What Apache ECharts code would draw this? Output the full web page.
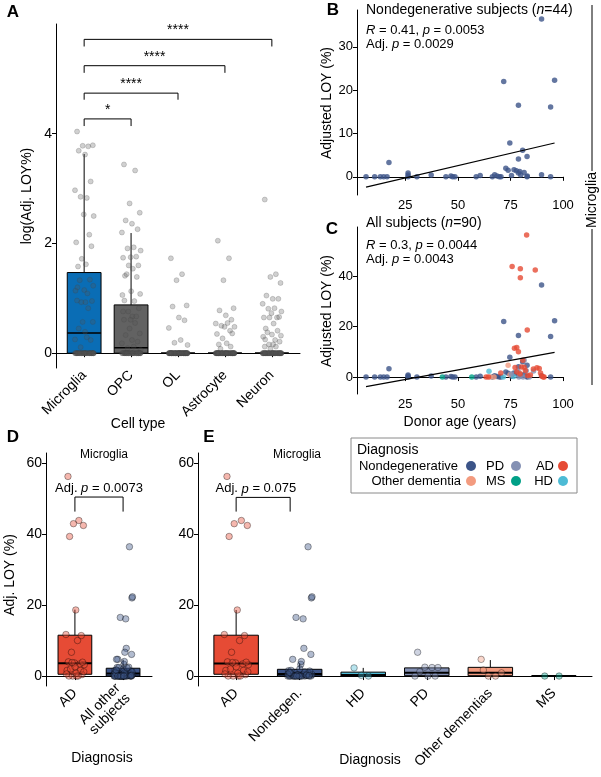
<!DOCTYPE html>
<html lang="en">
<head>
<meta charset="UTF-8">
<title>Microglia LOY</title>
<script src="https://cdn.jsdelivr.net/npm/echarts@6/dist/echarts.min.js"></script>
<style>
  html, body { margin: 0; padding: 0; background: #fff; }
  #chart { width: 601px; height: 777px; }
</style>
</head>
<body>
<div id="chart"></div>
<script>
// ---------- data ----------
// A: log(Adj. LOY%) per cell type
var cellTypes = ['Microglia', 'OPC', 'OL', 'Astrocyte', 'Neuron'];
// box stats [lower whisker, Q1, median, Q3, upper whisker]
var cellBox = [
    [0, 0, 0.37, 1.47, 3.63],
    [0, 0, 0.10, 0.88, 2.19],
    [0, 0, 0, 0, 0],
    [0, 0, 0, 0, 0],
    [0, 0, 0, 0, 0]
];
var microgliaLog = [4.04, 3.77, 3.78, 3.79, 3.69, 3.62, 3.13, 2.97, 2.83, 2.85, 2.50, 2.53, 2.16, 2.02, 1.95, 1.72, 1.62, 1.58, 1.34, 1.33,
    1.23, 1.15, 1.14, 1.09, 1.20, 0.95, 0.93, 0.93, 0.96, 0.82, 0.57, 0.57, 0.45, 0.39, 0.24, 0.25, 0.29, 0.11];
var opcLog = [3.44, 3.33, 2.73, 2.56, 2.42, 2.36, 2.26, 2.20, 1.93, 1.91, 1.87, 1.75, 1.76, 1.74, 1.60, 1.60, 1.54, 1.41, 1.39, 1.44,
    1.08, 1.13, 1.06, 0.95, 0.96, 0.82, 0.76, 0.67, 0.61, 0.55, 0.45, 0.36, 0.33, 0.24, 0.21, 0.18, 0.12, 0.09, 0.06, 0.61, 0.67, 0.76];
var olLog = [1.73, 1.44, 1.33, 0.87, 0.85, 0.65, 0.60, 0.46, 0.24, 0.19, 0.15];
var astroLog = [2.05, 1.73, 1.33, 0.82, 0.78, 0.69, 0.61, 0.54, 0.55, 0.50, 0.48, 0.48, 0.41, 0.35, 0.36, 0.27, 0.18, 0.16, 0.12, 0.08];
var neuronLog = [2.80, 1.44, 1.39, 1.28, 1.05, 0.99, 0.99, 0.90, 0.82, 0.81, 0.76, 0.73, 0.65, 0.65, 0.66, 0.65, 0.54, 0.45, 0.41, 0.38,
    0.32, 0.34, 0.30, 0.24, 0.25, 0.21, 0.16, 0.16, 0.12, 0.12, 0.08];
var cellZeros = [40, 35, 75, 65, 55];
// significance brackets: [from, to, top, leg end]
var sigA = [[1, 2, 4.27, 4.14], [1, 3, 4.74, 4.62], [1, 4, 5.24, 5.11], [1, 5, 5.72, 5.59]];
var sigALabels = ['*', '****', '****', '****'];

// B/C: [donor age, adjusted LOY %]
var ageNondegen = [[6.3, 0], [10.4, 0], [13.1, 0], [14.7, 0], [16.3, 0], [17.2, 3.3], [26.3, 0.85], [26.3, 0], [26.3, 0.4], [30.5, 0],
    [37.3, 0.4], [44.3, 0], [46.7, 0.2], [48.6, 0], [58.7, 0], [60.6, 0.3], [66.4, 0], [67.5, 0.5], [68.6, 0.2], [69.7, 0],
    [71.8, 22.0], [72.8, 2.0], [73.9, 1.5], [74.7, 7.8], [76.7, 1.6], [77.8, 1.4], [78.8, 16.5], [78.8, 4.1], [78.8, 0.9], [79.4, 1.2],
    [79.9, 0.4], [80.8, 6.1], [82.9, 4.7], [82.9, 0], [89.8, 36.4], [89.8, 0.5], [94.1, 16.1], [94.1, 0], [96.0, 22.3],
    [70.5, 0], [75.5, 0.3], [81.5, 1.0], [83.0, 0.2], [47.5, 0]];
var ageAD = [[82.7, 56.2], [75.8, 43.8], [79.7, 42.9], [86.8, 42.4], [79.7, 39.3], [83.0, 18.6], [76.9, 11.4], [78.0, 11.7],
    [78.8, 10.0], [80.9, 6.7], [85.9, 3.2], [87.6, 3.7], [88.7, 3.4], [89.3, 1.6], [89.8, 0.4], [90.6, 0], [63.4, 0], [64.5, 0],
    [70.4, 1.6], [78.0, 2.0], [79.6, 1.2], [82.1, 2.6], [83.2, 0.6], [91.0, 0], [80.2, 4.0], [81.5, 3.9], [77.2, 3.8], [84.5, 0.8]];
var agePD = [[81.5, 6.7], [78.5, 2.4], [82.5, 2.5], [86.0, 2.4], [75.5, 1.2], [81.0, 0], [84.0, 0], [79.0, 0]];
var ageOther = [[73.9, 4.7], [65.3, 0], [67.2, 0], [74.8, 0.9], [79.3, 1.7]];
var ageMS = [[42.6, 0], [56.6, 0]];
var ageHD = [[64.8, 2.3], [71.6, 0], [76.5, 0.2]];
var regB = [[6.3, -2.4], [96, 7.8]];
var regC = [[6.3, -3.8], [96, 9.8]];

// D/E: Adj. LOY (%) by diagnosis
var adCats = ['AD', 'All other\nsubjects'];
var adBox = [[0, 0.5, 3.6, 11.5, 18.7], [0, 0, 0.75, 2.2, 4.6]];
var dxCats = ['AD', 'Nondegen.', 'HD', 'PD', 'Other dementias', 'MS'];
var dxBox = [[0, 0.5, 3.5, 11.5, 18.6], [0, 0, 0.6, 1.9, 3.6], [0, 0, 0.3, 1.1, 2.3], [0, 0.1, 0.9, 2.3, 2.5], [0, 0.1, 0.9, 2.45, 4.5], [0, 0, 0, 0, 0]];
var sigD = [[1, 2, 50.4, 46.3, 1.5]];
var sigE = [[1, 1.85, 50.3, 46.3, 1.31]];

// ---------- styles ----------
var F = '"Liberation Sans", Arial, Helvetica, sans-serif';
var C_ND = '#3C5488', C_PD = '#8491B4', C_AD = '#E64B35', C_OD = '#F39B7F', C_MS = '#00A087', C_HD = '#4DBBD5';
var cellFill = ['#0a6db5', '#626262', '#ffffff', '#ffffff', '#ffffff'];
var dxFill = [C_AD, C_ND, C_HD, C_PD, C_OD, C_MS];
// jitter pattern (layout only)
var JIT = [-0.72, 0.41, -0.15, 0.88, -0.55, 0.09, 0.66, -0.93, 0.27, -0.36, 0.97, -0.04, 0.52, -0.81,
    0.74, -0.24, 0.18, -0.62, 0.58, -0.45, 0.92, 0.01, -0.88, 0.33, -0.68, 0.79, -0.29, 0.13];

function vals(pairs) { return pairs.map(function (p) { return p[1]; }); }
function jitter(values, cat, width) {
    return values.map(function (v, i) { return [cat + JIT[i % JIT.length] * width, v]; });
}
function rgba(hex, a) {
    var n = parseInt(hex.slice(1), 16);
    return 'rgba(' + (n >> 16) + ',' + ((n >> 8) & 255) + ',' + (n & 255) + ',' + a + ')';
}

// ---------- axes ----------
function catAxis(gi, names, fs) {
    var ticks = names.map(function (n, i) { return i + 1; });
    return {
        gridIndex: gi, type: 'value', min: 0.4, max: names.length + 0.6,
        axisLine: { show: true, lineStyle: { color: '#000', width: 1 } },
        axisTick: { show: true, length: 4, customValues: ticks, lineStyle: { color: '#000' } },
        axisLabel: {
            customValues: ticks, rotate: 45, margin: 5, color: '#000', fontSize: fs, fontFamily: F, lineHeight: fs,
            formatter: function (v) { return names[Math.round(v) - 1] || ''; }
        },
        splitLine: { show: false }
    };
}
function valAxis(gi, min, max, ticks, fs) {
    return {
        gridIndex: gi, type: 'value', min: min, max: max,
        axisLine: { show: true, lineStyle: { color: '#000', width: 1 } },
        axisTick: { show: true, length: 4, customValues: ticks, lineStyle: { color: '#000' } },
        axisLabel: { customValues: ticks, margin: 4, color: '#000', fontSize: fs, fontFamily: F },
        splitLine: { show: false }
    };
}

// ---------- series builders ----------
function boxSeries(ai, stats, fills, halfW, medW) {
    return {
        type: 'custom', xAxisIndex: ai, yAxisIndex: ai, z: 2, silent: true,
        data: stats.map(function (s, i) { return [i + 1, s[0], s[1], s[2], s[3], s[4]]; }),
        encode: { x: 0, y: [1, 2, 3, 4, 5] },
        renderItem: function (params, api) {
            var x = api.value(0);
            var lo = api.value(1), q1 = api.value(2), md = api.value(3), q3 = api.value(4), hi = api.value(5);
            var a = api.coord([x - halfW, q3]), b = api.coord([x + halfW, q1]);
            var m1 = api.coord([x - halfW, md]), m2 = api.coord([x + halfW, md]);
            var pHi = api.coord([x, hi]), pQ3 = api.coord([x, q3]), pQ1 = api.coord([x, q1]), pLo = api.coord([x, lo]);
            var ln = { stroke: '#000', lineWidth: 1 };
            return {
                type: 'group', children: [
                    { type: 'line', shape: { x1: pHi[0], y1: pHi[1], x2: pQ3[0], y2: pQ3[1] }, style: ln },
                    { type: 'line', shape: { x1: pLo[0], y1: pLo[1], x2: pQ1[0], y2: pQ1[1] }, style: ln },
                    { type: 'rect', shape: { x: a[0], y: a[1], width: b[0] - a[0], height: b[1] - a[1] },
                        style: { fill: fills[params.dataIndex], stroke: '#000', lineWidth: 1 } },
                    { type: 'line', shape: { x1: m1[0], y1: m1[1], x2: m2[0], y2: m2[1] }, style: { stroke: '#000', lineWidth: medW } }
                ]
            };
        }
    };
}
function bracketSeries(ai, brackets, labels, fs) {
    return {
        type: 'custom', xAxisIndex: ai, yAxisIndex: ai, z: 4, silent: true,
        data: brackets.map(function (b) { return [b[0], b[1], b[2], b[3], b.length > 4 ? b[4] : (b[0] + b[1]) / 2]; }),
        encode: { x: [0, 1], y: [2, 3] },
        renderItem: function (params, api) {
            var x1 = api.value(0), x2 = api.value(1), top = api.value(2), leg = api.value(3), tx = api.value(4);
            var p1 = api.coord([x1, leg]), p2 = api.coord([x1, top]), p3 = api.coord([x2, top]), p4 = api.coord([x2, leg]);
            var pt = api.coord([tx, top]);
            return {
                type: 'group', children: [
                    { type: 'polyline', shape: { points: [p1, p2, p3, p4] }, style: { stroke: '#000', fill: 'none', lineWidth: 1 } },
                    { type: 'text', x: pt[0], y: pt[1] - 2, style: {
                        text: labels[params.dataIndex], fill: '#000', fontSize: fs, fontFamily: F, align: 'center', verticalAlign: 'bottom',
                        rich: { i: { fontStyle: 'italic', fontSize: fs, fontFamily: F } } } }
                ]
            };
        }
    };
}
function dots(ai, data, color, size, border, z) {
    return {
        type: 'scatter', xAxisIndex: ai, yAxisIndex: ai, data: data, symbolSize: size, z: z || 3, silent: true,
        itemStyle: { color: color, borderColor: border || null, borderWidth: border ? 0.8 : 0 }
    };
}
function regLine(ai, data) {
    return {
        type: 'line', xAxisIndex: ai, yAxisIndex: ai, data: data, symbol: 'none', z: 5, silent: true,
        lineStyle: { color: '#000', width: 1.2 }
    };
}

// A jitter points
var cellVals = [microgliaLog, opcLog, olLog, astroLog, neuronLog];
var cellPts = [];
cellVals.forEach(function (v, c) {
    var all = v.slice();
    for (var k = 0; k < cellZeros[c]; k++) all.push(0);
    cellPts = cellPts.concat(jitter(all, c + 1, 0.21));
});

// D/E points
var othersVals = vals(ageNondegen).concat(vals(agePD), vals(ageOther), vals(ageHD), vals(ageMS));
var dxPairs = [ageAD, ageNondegen, ageHD, agePD, ageOther, ageMS];
var ptBorder = 'rgba(0,0,0,0.55)';

var series = [
    boxSeries(0, cellBox, cellFill, 0.36, 1.5),
    dots(0, cellPts, 'rgba(85,85,85,0.34)', 5, 'rgba(70,70,70,0.35)'),
    bracketSeries(0, sigA, sigALabels, 14),

    dots(1, ageNondegen, C_ND, 5.5),
    regLine(1, regB),

    dots(2, ageNondegen, C_ND, 5.5),
    dots(2, ageOther, C_OD, 5.5),
    dots(2, ageMS, C_MS, 5.5),
    dots(2, ageHD, C_HD, 5.5),
    dots(2, agePD, C_PD, 5.5),
    dots(2, ageAD, C_AD, 5.5),
    regLine(2, regC),

    boxSeries(3, adBox, [C_AD, C_ND], 0.35, 2),
    dots(3, jitter(vals(ageAD), 1, 0.2), rgba(C_AD, 0.5), 6.5, ptBorder),
    dots(3, jitter(othersVals, 2, 0.2), rgba(C_ND, 0.5), 6.5, ptBorder),
    bracketSeries(3, sigD, ['Adj. {i|p} = 0.0073'], 13),

    boxSeries(4, dxBox, dxFill, 0.35, 2),
    bracketSeries(4, sigE, ['Adj. {i|p} = 0.075'], 13)
];
dxPairs.forEach(function (p, i) {
    series.push(dots(4, jitter(vals(p), i + 1, 0.2), rgba(dxFill[i], 0.5), 6.5, ptBorder));
});

// ---------- graphic texts ----------
function richFor(size) { return { i: { fontStyle: 'italic', fontSize: size, fontFamily: F } }; }
function txt(x, y, text, size, opt) {
    opt = opt || {};
    var el = {
        type: 'text', x: x, y: y, silent: true,
        style: { text: text, fill: '#000', fontSize: size, fontFamily: F, fontWeight: opt.bold ? 'bold' : 'normal',
            align: opt.align || 'left', verticalAlign: 'middle', rich: richFor(size) }
    };
    if (opt.rot) el.rotation = opt.rot;
    return el;
}
function vline(x, y1, y2) {
    return { type: 'line', silent: true, shape: { x1: x, y1: y1, x2: x, y2: y2 }, style: { stroke: '#000', lineWidth: 1 } };
}
var legendItems = [
    ['Nondegenerative', C_ND, 458, 471, 466, 'right'], ['PD', C_PD, 486, 516, 466, 'left'], ['AD', C_AD, 554, 563, 466, 'right'],
    ['Other dementia', C_OD, 461, 471, 481, 'right'], ['MS', C_MS, 486, 516, 481, 'left'], ['HD', C_HD, 553, 563, 481, 'right']
];
var graphic = [
    txt(13, 12, 'A', 17, { bold: true, align: 'center' }),
    txt(333, 10, 'B', 17, { bold: true, align: 'center' }),
    txt(332, 229, 'C', 17, { bold: true, align: 'center' }),
    txt(13, 437, 'D', 17, { bold: true, align: 'center' }),
    txt(209, 437, 'E', 17, { bold: true, align: 'center' }),

    txt(27, 196, 'log(Adj. LOY%)', 14, { align: 'center', rot: Math.PI / 2 }),
    txt(138, 424, 'Cell type', 14, { align: 'center' }),

    txt(366, 10, 'Nondegenerative subjects ({i|n}=44)', 14),
    txt(366, 30, '{i|R} = 0.41, {i|p} = 0.0053', 13),
    txt(366, 44, 'Adj. {i|p} = 0.0029', 13),
    txt(327, 103, 'Adjusted LOY (%)', 14, { align: 'center', rot: Math.PI / 2 }),

    txt(366, 223, 'All subjects ({i|n}=90)', 14),
    txt(366, 245, '{i|R} = 0.3, {i|p} = 0.0044', 13),
    txt(366, 259, 'Adj. {i|p} = 0.0043', 13),
    txt(327, 311, 'Adjusted LOY (%)', 14, { align: 'center', rot: Math.PI / 2 }),
    txt(460, 422, 'Donor age (years)', 14, { align: 'center' }),

    vline(592, 5, 171),
    vline(592, 229, 385),
    txt(592, 200, 'Microglia', 14, { align: 'center', rot: Math.PI / 2 }),

    txt(104, 455, 'Microglia', 12, { align: 'center' }),
    txt(10, 575, 'Adj. LOY (%)', 14, { align: 'center', rot: Math.PI / 2 }),
    txt(102, 758, 'Diagnosis', 14, { align: 'center' }),

    txt(297, 455, 'Microglia', 12, { align: 'center' }),
    txt(370, 760, 'Diagnosis', 14, { align: 'center' }),

    { type: 'rect', silent: true, shape: { x: 351, y: 438, width: 226, height: 55 }, style: { fill: '#fff', stroke: '#8a8a8a', lineWidth: 1 } },
    txt(357, 450, 'Diagnosis', 14)
];
legendItems.forEach(function (it) {
    graphic.push(txt(it[2], it[4], it[0], 13, { align: it[5] }));
    graphic.push({ type: 'circle', silent: true, shape: { cx: it[3], cy: it[4], r: 5 }, style: { fill: it[1] } });
});

// ---------- chart ----------
var myChart = echarts.init(document.getElementById('chart'), null, { renderer: 'canvas' });
var option = {
    animation: false,
    backgroundColor: '#fff',
    textStyle: { fontFamily: F },
    grid: [
        { left: 56, top: 24, width: 244, height: 344, outerBoundsMode: 'none' },
        { left: 357, top: 10, width: 206, height: 185, outerBoundsMode: 'none' },
        { left: 357, top: 227, width: 206, height: 167, outerBoundsMode: 'none' },
        { left: 46, top: 453, width: 106, height: 233, outerBoundsMode: 'none' },
        { left: 198, top: 453, width: 394, height: 233, outerBoundsMode: 'none' }
    ],
    xAxis: [
        catAxis(0, cellTypes, 14),
        valAxis(1, 2, 100, [25, 50, 75, 100], 13),
        valAxis(2, 2, 100, [25, 50, 75, 100], 13),
        catAxis(3, adCats, 14),
        catAxis(4, dxCats, 14)
    ],
    yAxis: [
        valAxis(0, -0.27, 6.0, [0, 2, 4], 14),
        valAxis(1, -4.2, 38.5, [0, 10, 20, 30], 13),
        valAxis(2, -6.7, 59.4, [0, 20, 40], 13),
        valAxis(3, -2.8, 62.8, [0, 20, 40, 60], 14),
        valAxis(4, -2.8, 62.8, [0, 20, 40, 60], 14)
    ],
    series: series,
    graphic: { elements: graphic }
};
myChart.setOption(option);
</script>
</body>
</html>
